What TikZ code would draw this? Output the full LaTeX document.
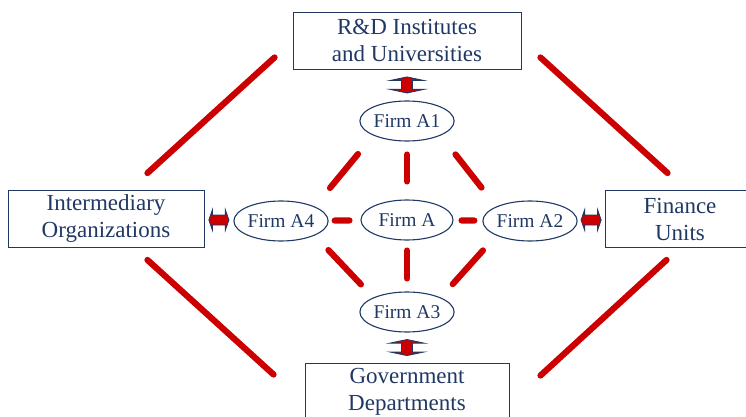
\documentclass[tikz,border=0pt]{standalone}
\usepackage{fontspec}
\setmainfont{Liberation Serif}
\usetikzlibrary{shapes.geometric,calc}
\definecolor{navy}{RGB}{31,56,100}
\definecolor{linkred}{RGB}{204,0,0}
\tikzset{
  unit/.style={draw=navy, line width=0.9pt, text=navy, align=center, inner sep=0pt,
    font=\fontsize{23}{27}\selectfont, minimum height=57pt},
  firm/.style={ellipse, draw=navy, line width=1.1pt, text=navy, inner sep=0pt,
    minimum width=92pt, minimum height=40pt, font=\fontsize{19.5}{22}\selectfont},
  link/.style={draw=linkred, line width=6.2pt, line cap=round},
  biarrow/.style={fill=linkred, draw=navy, line width=0.9pt, line join=miter},
  vbiarrow/.pic={\filldraw[biarrow] (0,-8) -- (16.5,-4.5) -- (5.5,-4.5) -- (5.5,4.5)
    -- (16.5,4.5) -- (0,8) -- (-16.5,4.5) -- (-5.5,4.5) -- (-5.5,-4.5) -- (-16.5,-4.5) -- cycle;},
  hbiarrow/.pic={\filldraw[biarrow] (-10,0) -- (-6.5,-10) -- (-6.5,-5) -- (6.5,-5)
    -- (6.5,-10) -- (10,0) -- (6.5,10) -- (6.5,5) -- (-6.5,5) -- (-6.5,10) -- cycle;}
}

\begin{document}
\begin{tikzpicture}[x=1pt,y=-1pt]
  \clip (0,0) rectangle (746,417);
  % outer units
  \node[unit, minimum width=228pt] (rd) at (407,40.5) {R\&D Institutes\\and Universities};
  \node[unit, minimum width=196pt] (inter) at (106,219) {Intermediary\\Organizations};
  \node[unit, minimum width=150pt] (fin) at (680,219) {Finance\\Units};
  \node[unit, minimum width=204pt] (gov) at (407,391.5) {Government\\Departments};
  % firms
  \node[firm] (A1) at (407,121) {Firm A1};
  \node[firm] (A) at (407,220) {Firm A};
  \node[firm] (A4) at (281,221) {Firm A4};
  \node[firm] (A2) at (530,221) {Firm A2};
  \node[firm] (A3) at (407,312) {Firm A3};
  % links between the firms
  \draw[link, shorten <=13pt, shorten >=18pt] (A1) -- (A);
  \draw[link, shorten <=10pt, shorten >=13pt] (A) -- (A3);
  \draw[link, shorten <=6pt, shorten >=11pt] (A4) -- (A);
  \draw[link, shorten <=8pt, shorten >=8pt] (A) -- (A2);
  \draw[link, shorten <=24pt, shorten >=24pt] (A1.south west) -- (A4.north east);
  \draw[link, shorten <=24pt, shorten >=24pt] (A1.south east) -- (A2.north west);
  \draw[link, shorten <=20pt, shorten >=18pt] (A4.south east) -- (A3.north west);
  \draw[link, shorten <=20pt, shorten >=18pt] (A2.south west) -- (A3.north east);
  % links between the units
  \draw[link] ([shift={(-18,-12)}]rd.south west) -- ([shift={(-57,-17)}]inter.north east);
  \draw[link] ([shift={(19,-12)}]rd.south east) -- ([shift={(63,-17)}]fin.north west);
  \draw[link] ([shift={(-57,12)}]inter.south east) -- ([shift={(-31,12)}]gov.north west);
  \draw[link] ([shift={(62,12)}]fin.south west) -- ([shift={(31,13)}]gov.north east);
  % exchange arrows
  \coordinate (rdA1) at ($(rd.south)!0.5!(A1.north)$);
  \coordinate (A3gov) at ($(A3.south)!0.5!(gov.north)$);
  \coordinate (interA4) at ($(inter.east)!0.5!(A4.west)$);
  \coordinate (A2fin) at ($(A2.east)!0.5!(fin.west)$);
  \pic at (rdA1) {vbiarrow};
  \pic at (A3gov) {vbiarrow};
  \pic at (interA4) {hbiarrow};
  \pic at (A2fin) {hbiarrow};
\end{tikzpicture}
\end{document}
